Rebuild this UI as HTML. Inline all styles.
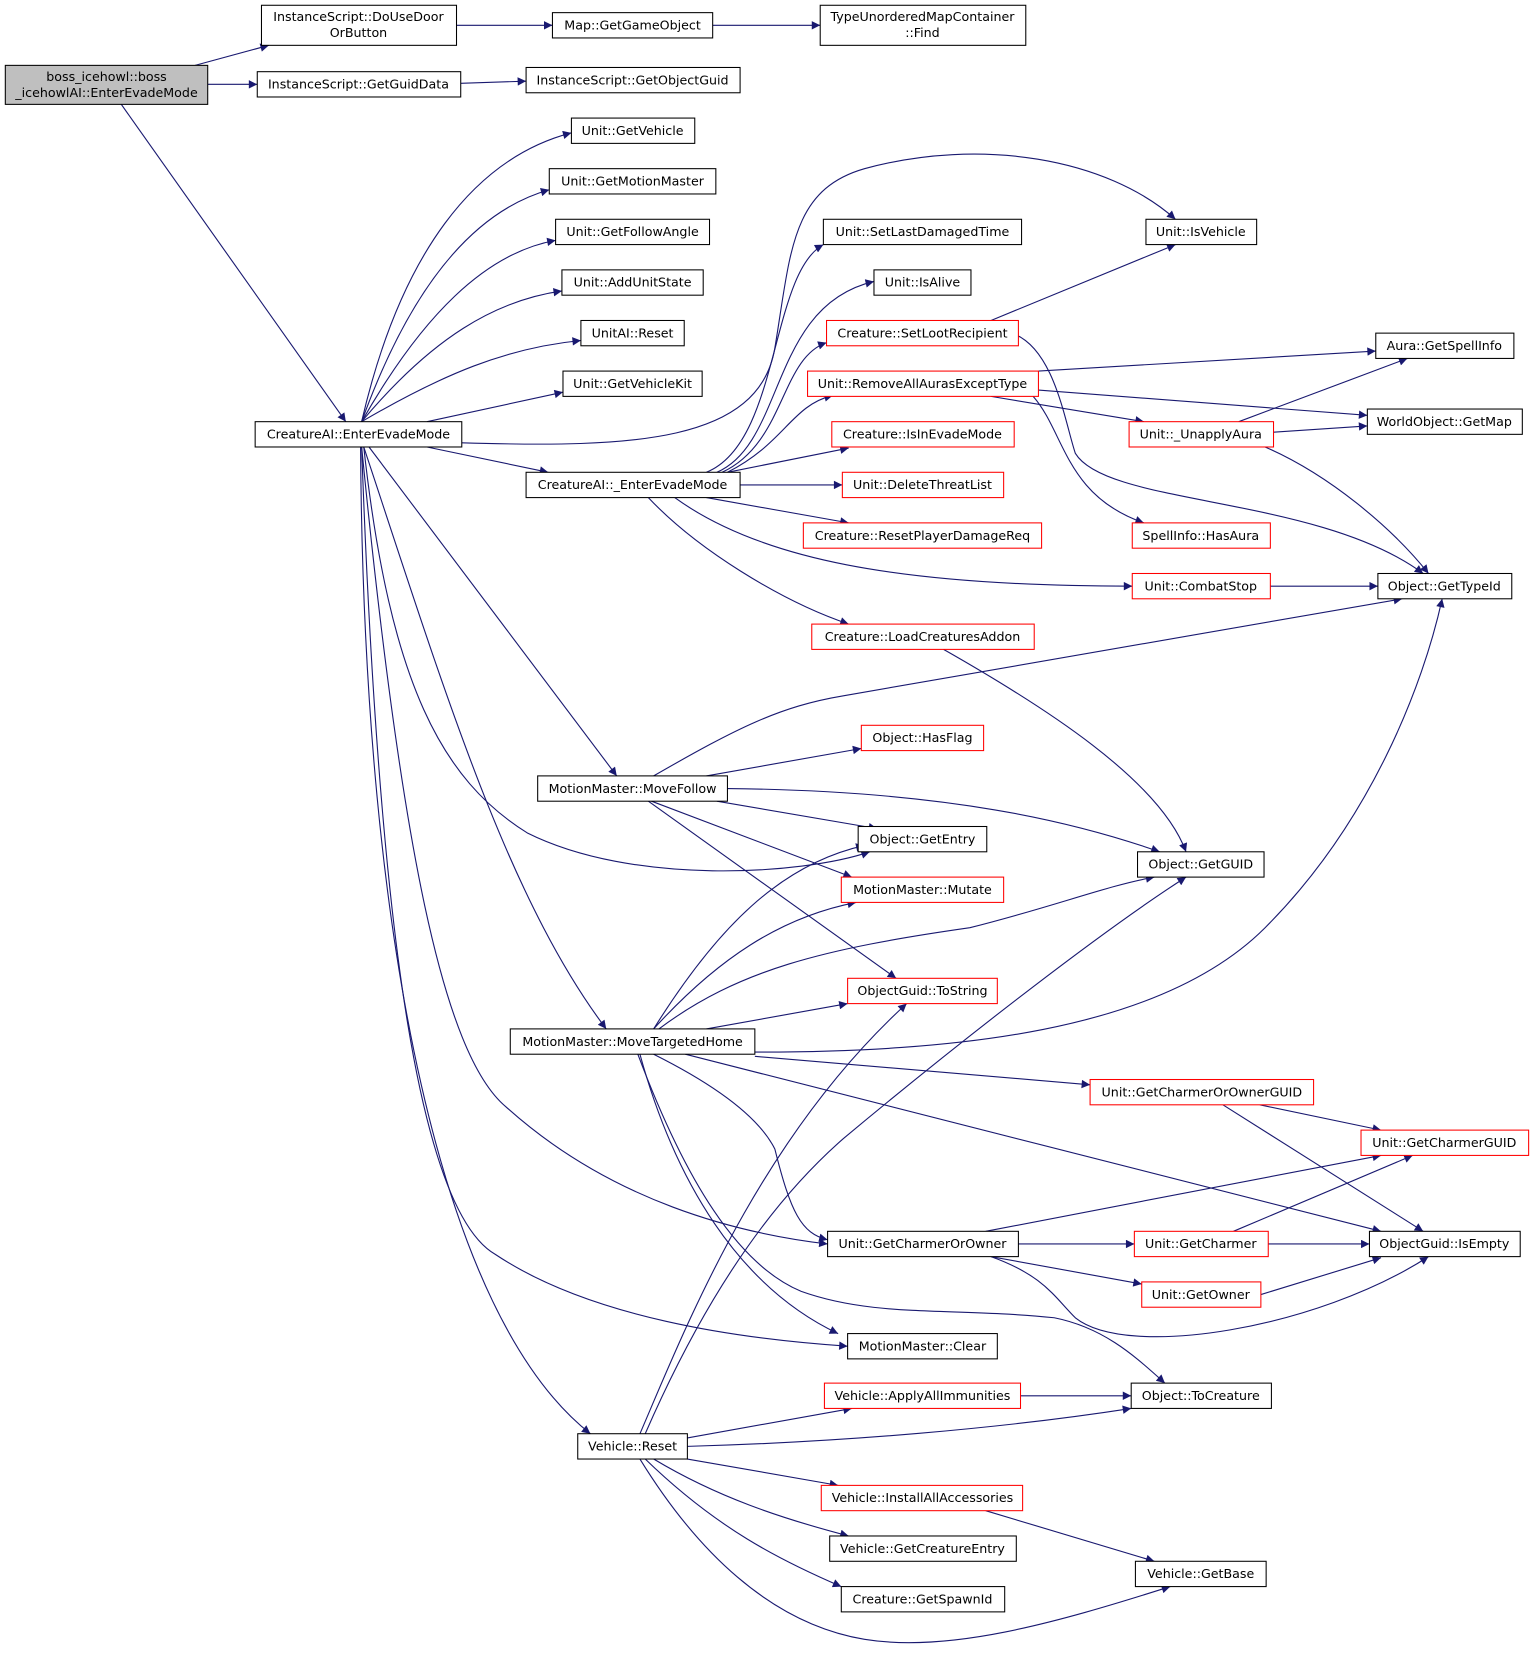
<!DOCTYPE html>
<html><head><meta charset="utf-8"><style>
html,body{margin:0;padding:0;background:#fff;}
svg{display:block;}
text{font-family:"DejaVu Sans","Liberation Sans",sans-serif;font-size:12px;fill:#000;}
.e{fill:none;stroke:#191970;stroke-width:1.05;marker-end:url(#a);}
.n{fill:#fff;stroke:#000;stroke-width:1;}
.r{fill:#fff;stroke:#ff0000;stroke-width:1;}
</style></head><body>
<svg width="1535" height="1653" viewBox="0 0 1456 1568" xmlns="http://www.w3.org/2000/svg">
<defs><marker id="a" viewBox="0 0 10 10" refX="10" refY="5" markerWidth="11" markerHeight="8" markerUnits="userSpaceOnUse" orient="auto"><path d="M0,0 L10,5 L0,10 z" fill="#191970"/></marker></defs>
<g>
<path class="e" d="M185,62 L255,43"/>
<path class="e" d="M197,80 L244,80"/>
<path class="e" d="M433,24 L524,24"/>
<path class="e" d="M676,24 L778,24"/>
<path class="e" d="M437,79 L499,77"/>
<path class="e" d="M115,99 L328,400"/>
<path class="e" d="M343,400 C380,240 450,150 542,126"/>
<path class="e" d="M343,400 C390,270 450,200 521,180"/>
<path class="e" d="M343,400 C400,300 460,240 527,228"/>
<path class="e" d="M343,400 C410,320 470,285 533,276"/>
<path class="e" d="M343,400 C420,355 480,330 551,323"/>
<path class="e" d="M405,400 L534,372"/>
<path class="e" d="M405,424 L520,448"/>
<path class="e" d="M438,420 C600,425 720,420 735,330 C750,240 750,180 820,160 C930,130 1050,150 1115,208"/>
<path class="e" d="M350,424 L585,736"/>
<path class="e" d="M345,424 C370,650 420,740 500,790 C600,840 760,830 825,808"/>
<path class="e" d="M345,424 C420,650 480,850 575,976"/>
<path class="e" d="M343,424 C380,800 420,1000 480,1050 C580,1140 700,1170 785,1180"/>
<path class="e" d="M343,424 C360,900 400,1150 470,1190 C560,1250 700,1270 804,1277"/>
<path class="e" d="M342,424 C345,900 420,1250 560,1360"/>
<path class="e" d="M670,448 C740,420 730,260 781,232"/>
<path class="e" d="M680,448 C745,420 730,290 829,267"/>
<path class="e" d="M685,448 C745,420 740,340 784,325"/>
<path class="e" d="M690,448 C745,420 750,385 790,375"/>
<path class="e" d="M690,448 L805,425"/>
<path class="e" d="M702,460 L799,460"/>
<path class="e" d="M670,472 L805,496"/>
<path class="e" d="M640,472 C720,530 850,556 1074,556"/>
<path class="e" d="M615,472 C660,520 740,570 805,592"/>
<path class="e" d="M940,304 L1115,232"/>
<path class="e" d="M960,316 C1000,330 1010,400 1020,430 C1050,480 1250,470 1350,544"/>
<path class="e" d="M985,352 L1305,333"/>
<path class="e" d="M985,370 L1297,394"/>
<path class="e" d="M940,376 L1085,400"/>
<path class="e" d="M980,376 C1010,410 1010,470 1085,496"/>
<path class="e" d="M1175,400 L1335,340"/>
<path class="e" d="M1208,410 L1297,404"/>
<path class="e" d="M1200,424 C1260,450 1320,500 1355,544"/>
<path class="e" d="M1205,556 L1307,556"/>
<path class="e" d="M895,616 C990,670 1100,740 1125,808"/>
<path class="e" d="M620,736 C700,690 740,670 800,660 L1330,568"/>
<path class="e" d="M670,736 L817,710"/>
<path class="e" d="M690,748 C900,750 1020,780 1100,808"/>
<path class="e" d="M680,760 L832,786"/>
<path class="e" d="M618,760 L808,832"/>
<path class="e" d="M615,760 L850,928"/>
<path class="e" d="M620,976 C680,880 740,820 820,802"/>
<path class="e" d="M620,976 C680,910 740,870 812,856"/>
<path class="e" d="M625,976 C700,920 780,900 920,880 C1000,860 1050,840 1095,832"/>
<path class="e" d="M670,976 L804,952"/>
<path class="e" d="M716,998 C900,998 1100,980 1200,880 C1300,780 1350,650 1368,568"/>
<path class="e" d="M716,1002 L1034,1029"/>
<path class="e" d="M650,1000 L1310,1168"/>
<path class="e" d="M620,1000 C680,1030 720,1060 735,1090 C750,1150 760,1170 785,1176"/>
<path class="e" d="M607,1000 C640,1120 700,1220 795,1265"/>
<path class="e" d="M605,1000 C650,1120 700,1200 760,1225 C830,1250 900,1240 1000,1250 C1050,1260 1080,1290 1105,1312"/>
<path class="e" d="M1195,1048 L1310,1072"/>
<path class="e" d="M1160,1048 L1350,1168"/>
<path class="e" d="M935,1168 L1310,1096"/>
<path class="e" d="M966,1180 L1076,1180"/>
<path class="e" d="M940,1192 L1083,1218"/>
<path class="e" d="M940,1192 C990,1210 1000,1230 1020,1250 C1070,1290 1250,1260 1355,1192"/>
<path class="e" d="M1170,1168 L1340,1096"/>
<path class="e" d="M1203,1180 L1299,1180"/>
<path class="e" d="M1196,1228 L1310,1193"/>
<path class="e" d="M968,1324 L1073,1324"/>
<path class="e" d="M607,1360 C650,1260 720,1080 860,952"/>
<path class="e" d="M612,1360 C660,1250 720,1150 800,1080 C920,980 1050,880 1125,832"/>
<path class="e" d="M652,1364 L808,1336"/>
<path class="e" d="M652,1372 C800,1368 950,1355 1073,1336"/>
<path class="e" d="M652,1384 L795,1409"/>
<path class="e" d="M620,1384 C680,1420 740,1440 805,1457"/>
<path class="e" d="M612,1384 C680,1450 740,1480 798,1505"/>
<path class="e" d="M607,1384 C660,1470 730,1540 820,1555 C900,1568 1000,1540 1110,1505"/>
<path class="e" d="M935,1433 L1095,1481"/>
</g>
<g text-anchor="middle">
<rect x="5" y="62" width="192" height="37" fill="#bfbfbf" stroke="#000"/><text x="101" y="77">boss_icehowl::boss</text><text x="101" y="92">_icehowlAI::EnterEvadeMode</text>
<rect class="n" x="248" y="5" width="185" height="38"/><text x="340" y="20">InstanceScript::DoUseDoor</text><text x="340" y="35">OrButton</text>
<rect class="n" x="244" y="68" width="193" height="24"/><text x="340" y="84">InstanceScript::GetGuidData</text>
<rect class="n" x="524" y="12" width="152" height="24"/><text x="600" y="28">Map::GetGameObject</text>
<rect class="n" x="778" y="5" width="195" height="38"/><text x="875" y="20">TypeUnorderedMapContainer</text><text x="875" y="35">::Find</text>
<rect class="n" x="499" y="64" width="203" height="24"/><text x="600" y="80">InstanceScript::GetObjectGuid</text>
<rect class="n" x="542" y="112" width="117" height="24"/><text x="600" y="128">Unit::GetVehicle</text>
<rect class="n" x="521" y="160" width="158" height="24"/><text x="600" y="176">Unit::GetMotionMaster</text>
<rect class="n" x="527" y="208" width="146" height="24"/><text x="600" y="224">Unit::GetFollowAngle</text>
<rect class="n" x="533" y="256" width="134" height="24"/><text x="600" y="272">Unit::AddUnitState</text>
<rect class="n" x="551" y="304" width="98" height="24"/><text x="600" y="320">UnitAI::Reset</text>
<rect class="n" x="534" y="352" width="132" height="24"/><text x="600" y="368">Unit::GetVehicleKit</text>
<rect class="n" x="242" y="400" width="196" height="24"/><text x="340" y="416">CreatureAI::EnterEvadeMode</text>
<rect class="n" x="499" y="448" width="203" height="24"/><text x="600" y="464">CreatureAI::_EnterEvadeMode</text>
<rect class="n" x="781" y="208" width="188" height="24"/><text x="875" y="224">Unit::SetLastDamagedTime</text>
<rect class="n" x="1087" y="208" width="105" height="24"/><text x="1139" y="224">Unit::IsVehicle</text>
<rect class="n" x="829" y="256" width="92" height="24"/><text x="875" y="272">Unit::IsAlive</text>
<rect class="r" x="784" y="304" width="182" height="24"/><text x="875" y="320">Creature::SetLootRecipient</text>
<rect class="r" x="766" y="352" width="219" height="24"/><text x="875" y="368">Unit::RemoveAllAurasExceptType</text>
<rect class="r" x="789" y="400" width="173" height="24"/><text x="875" y="416">Creature::IsInEvadeMode</text>
<rect class="r" x="799" y="448" width="153" height="24"/><text x="875" y="464">Unit::DeleteThreatList</text>
<rect class="r" x="762" y="496" width="226" height="24"/><text x="875" y="512">Creature::ResetPlayerDamageReq</text>
<rect class="r" x="770" y="592" width="211" height="24"/><text x="875" y="608">Creature::LoadCreaturesAddon</text>
<rect class="n" x="1305" y="316" width="131" height="24"/><text x="1370" y="332">Aura::GetSpellInfo</text>
<rect class="n" x="1297" y="388" width="147" height="24"/><text x="1370" y="404">WorldObject::GetMap</text>
<rect class="r" x="1071" y="400" width="137" height="24"/><text x="1139" y="416">Unit::_UnapplyAura</text>
<rect class="r" x="1074" y="496" width="131" height="24"/><text x="1139" y="512">SpellInfo::HasAura</text>
<rect class="r" x="1074" y="544" width="131" height="24"/><text x="1139" y="560">Unit::CombatStop</text>
<rect class="n" x="1307" y="544" width="127" height="24"/><text x="1370" y="560">Object::GetTypeId</text>
<rect class="r" x="817" y="688" width="116" height="24"/><text x="875" y="704">Object::HasFlag</text>
<rect class="n" x="510" y="736" width="180" height="24"/><text x="600" y="752">MotionMaster::MoveFollow</text>
<rect class="n" x="814" y="784" width="122" height="24"/><text x="875" y="800">Object::GetEntry</text>
<rect class="r" x="798" y="832" width="154" height="24"/><text x="875" y="848">MotionMaster::Mutate</text>
<rect class="n" x="1079" y="808" width="120" height="24"/><text x="1139" y="824">Object::GetGUID</text>
<rect class="r" x="804" y="928" width="142" height="24"/><text x="875" y="944">ObjectGuid::ToString</text>
<rect class="n" x="484" y="976" width="232" height="24"/><text x="600" y="992">MotionMaster::MoveTargetedHome</text>
<rect class="r" x="1034" y="1024" width="212" height="24"/><text x="1140" y="1040">Unit::GetCharmerOrOwnerGUID</text>
<rect class="r" x="1291" y="1072" width="159" height="24"/><text x="1370" y="1088">Unit::GetCharmerGUID</text>
<rect class="n" x="785" y="1168" width="181" height="24"/><text x="875" y="1184">Unit::GetCharmerOrOwner</text>
<rect class="r" x="1076" y="1168" width="127" height="24"/><text x="1139" y="1184">Unit::GetCharmer</text>
<rect class="n" x="1299" y="1168" width="143" height="24"/><text x="1370" y="1184">ObjectGuid::IsEmpty</text>
<rect class="r" x="1083" y="1216" width="113" height="24"/><text x="1139" y="1232">Unit::GetOwner</text>
<rect class="n" x="804" y="1265" width="142" height="24"/><text x="875" y="1281">MotionMaster::Clear</text>
<rect class="n" x="1073" y="1312" width="133" height="24"/><text x="1139" y="1328">Object::ToCreature</text>
<rect class="r" x="782" y="1312" width="186" height="24"/><text x="875" y="1328">Vehicle::ApplyAllImmunities</text>
<rect class="n" x="548" y="1360" width="104" height="24"/><text x="600" y="1376">Vehicle::Reset</text>
<rect class="r" x="779" y="1409" width="191" height="24"/><text x="875" y="1425">Vehicle::InstallAllAccessories</text>
<rect class="n" x="787" y="1457" width="177" height="24"/><text x="875" y="1473">Vehicle::GetCreatureEntry</text>
<rect class="n" x="1077" y="1481" width="124" height="24"/><text x="1139" y="1497">Vehicle::GetBase</text>
<rect class="n" x="798" y="1505" width="155" height="24"/><text x="875" y="1521">Creature::GetSpawnId</text>
</g>
</svg>
</body></html>
